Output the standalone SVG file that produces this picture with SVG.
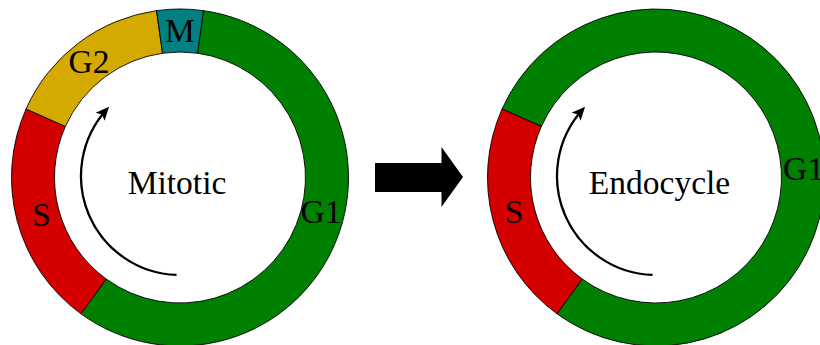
<svg xmlns="http://www.w3.org/2000/svg" width="820" height="345" viewBox="0 0 820 345">
  <style>
    .seg { stroke: #000; stroke-width: 0.9; stroke-linejoin: round; }
    .g1 { fill: #008000; }
    .s { fill: #D40000; }
    .g2 { fill: #D4AA00; }
    .m { fill: #008080; }
    .lbl { font-family: "Liberation Serif", "DejaVu Serif", serif; font-size: 33.5px; fill: #000; text-anchor: middle; }
    .cyc { fill: none; stroke: #000; stroke-width: 2.3; marker-end: url(#tip); }
  </style>
  <defs>
    <marker id="tip" markerUnits="userSpaceOnUse" markerWidth="30" markerHeight="30" refX="0" refY="0" orient="auto" overflow="visible">
      <path d="M4,0 L-9.5,-6 L-6.5,0 L-9.5,6 Z" fill="#000"/>
    </marker>
  </defs>
  <rect width="820" height="345" fill="#fff"/>

  <g id="mitotic-cycle">
    <g id="mitotic-G1">
      <path class="seg g1" d="M203.45,10.64 A168.5,168.5 0 1 1 80.96,313.82 L106.23,279.03 A125.5,125.5 0 1 0 197.47,53.22 Z"/>
      <text class="lbl" x="321" y="223">G1</text>
    </g>
    <g id="mitotic-S">
      <path class="seg s" d="M80.96,313.82 A168.5,168.5 0 0 1 26.07,108.96 L65.35,126.45 A125.5,125.5 0 0 0 106.23,279.03 Z"/>
      <text class="lbl" x="41.5" y="226">S</text>
    </g>
    <g id="mitotic-G2">
      <path class="seg g2" d="M26.07,108.96 A168.5,168.5 0 0 1 156.55,10.64 L162.53,53.22 A125.5,125.5 0 0 0 65.35,126.45 Z"/>
      <text class="lbl" x="89" y="73">G2</text>
    </g>
    <g id="mitotic-M">
      <path class="seg m" d="M156.55,10.64 A168.5,168.5 0 0 1 203.45,10.64 L197.47,53.22 A125.5,125.5 0 0 0 162.53,53.22 Z"/>
      <text class="lbl" x="180" y="42">M</text>
    </g>
    <text class="lbl" x="177" y="194">Mitotic</text>
  </g>

  <g id="endocycle">
    <g id="endo-G1">
      <path class="seg g1" d="M502.07,108.96 A168.5,168.5 0 1 1 556.96,313.82 L582.23,279.03 A125.5,125.5 0 1 0 541.35,126.45 Z"/>
      <text class="lbl" x="783" y="179.5" style="text-anchor:start">G1</text>
    </g>
    <g id="endo-S">
      <path class="seg s" d="M556.96,313.82 A168.5,168.5 0 0 1 502.07,108.96 L541.35,126.45 A125.5,125.5 0 0 0 582.23,279.03 Z"/>
      <text class="lbl" x="514" y="223">S</text>
    </g>
    <text class="lbl" x="659.5" y="194">Endocycle</text>
  </g>

  <g id="connectors">
    <path class="cyc" d="M176.55,274.94 A99,99 0 0 1 106.43,109.76"/>
    <path class="cyc" d="M652.55,274.94 A99,99 0 0 1 582.43,109.76"/>
    <polygon id="transition-arrow" points="375,163 441.5,163 441.5,147 463,177 441.5,207 441.5,192 375,192" fill="#000"/>
  </g>
</svg>
